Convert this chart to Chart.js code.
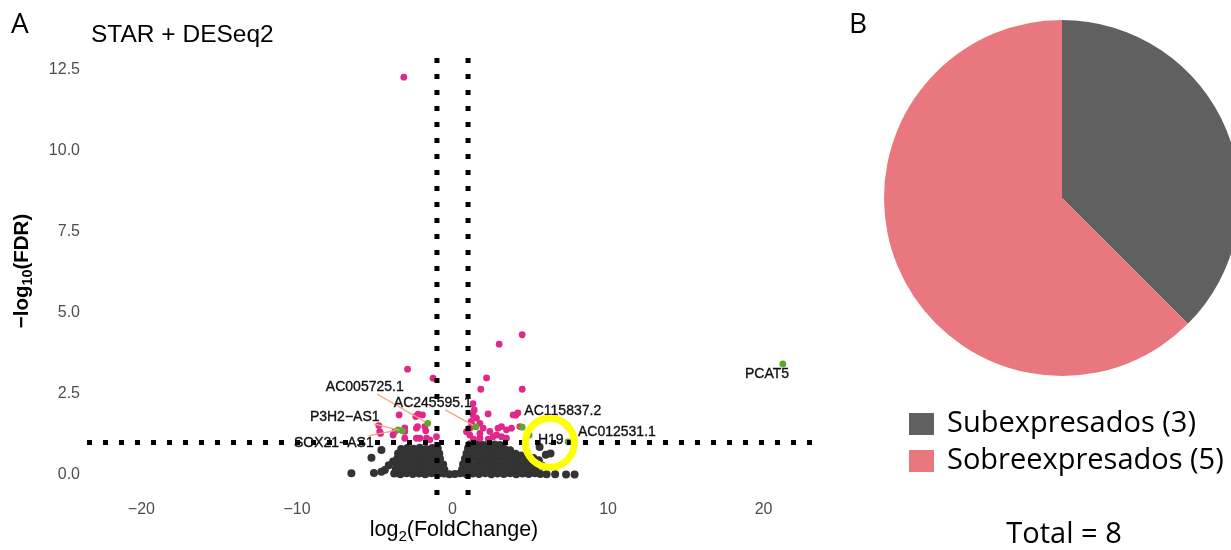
<!DOCTYPE html>
<html>
<head>
<meta charset="utf-8">
<script src="https://cdn.jsdelivr.net/npm/chart.js@4.4.1/dist/chart.umd.min.js"></script>
<style>
  html, body { margin: 0; padding: 0; background: #fff; overflow: hidden; width: 1231px; height: 550px; }
  #volcano { position: absolute; left: 0; top: 0; }
  #pie { position: absolute; left: 840px; top: 0; }
</style>
</head>
<body>
<canvas id="volcano" width="830" height="550"></canvas>
<canvas id="pie" width="400" height="550"></canvas>
<script>
// log2(FoldChange), -log10(FDR) of the non significant genes (grey cloud)
const nsPoints = [
  [-3.75,0.04],[-3.35,0.02],[-2.95,0.05],[-2.55,0.03],[-2.15,0.04],[-1.75,0.02],[-1.35,0.05],[-0.95,0.03],[-0.55,0.04],[-0.2,0.02],
  [0.15,0.03],[0.5,0.05],[0.9,0.02],[1.3,0.04],[1.7,0.03],[2.1,0.05],[2.5,0.02],[2.9,0.04],[3.3,0.03],[3.7,0.05],[4.1,0.02],[4.5,0.04],[4.9,0.03],[5.3,0.05],[5.65,0.03],
  [-3.65,0.18],[-3.25,0.15],[-2.85,0.19],[-2.45,0.16],[-2.05,0.18],[-1.65,0.15],[-1.25,0.19],[-0.85,0.17],[-0.52,0.16],
  [0.62,0.17],[0.95,0.19],[1.35,0.15],[1.75,0.18],[2.15,0.16],[2.55,0.19],[2.95,0.15],[3.35,0.18],[3.75,0.16],[4.15,0.19],[4.55,0.15],[4.95,0.18],[5.35,0.16],
  [-3.6,0.34],[-3.2,0.31],[-2.8,0.35],[-2.4,0.32],[-2.0,0.34],[-1.6,0.31],[-1.2,0.35],[-0.85,0.33],[-0.6,0.32],
  [0.68,0.33],[1.05,0.35],[1.45,0.31],[1.85,0.34],[2.25,0.32],[2.65,0.35],[3.05,0.31],[3.45,0.34],[3.85,0.32],[4.25,0.35],[4.65,0.31],[5.05,0.33],
  [-3.55,0.5],[-3.15,0.48],[-2.75,0.52],[-2.35,0.49],[-1.95,0.51],[-1.55,0.48],[-1.15,0.52],[-0.8,0.5],
  [0.8,0.5],[1.15,0.52],[1.55,0.48],[1.95,0.51],[2.35,0.49],[2.75,0.52],[3.15,0.48],[3.55,0.51],[3.95,0.49],[4.35,0.52],[4.75,0.48],
  [-3.5,0.66],[-3.1,0.64],[-2.7,0.68],[-2.3,0.65],[-1.9,0.67],[-1.5,0.64],[-1.1,0.68],[-0.85,0.66],
  [0.9,0.66],[1.25,0.68],[1.65,0.64],[2.05,0.67],[2.45,0.65],[2.85,0.68],[3.25,0.64],[3.65,0.67],[4.05,0.65],[4.4,0.6],
  [-3.3,0.8],[-2.9,0.83],[-2.5,0.81],[-2.1,0.84],[-1.7,0.8],[-1.3,0.83],[-0.95,0.82],
  [1.0,0.82],[1.35,0.84],[1.75,0.8],[2.15,0.83],[2.55,0.81],[2.95,0.84],[3.35,0.8],[3.7,0.76],
  [1.1,0.94],[1.5,0.96],[1.9,0.93],[2.3,0.95],[2.7,0.94],[3.05,0.92],
  [-6.5,0.05],[-5.05,0.06],[-5.21,0.53],[-4.57,0.77],[-4.57,0.1],[-4.35,0.15],[-3.82,0.41],[-4.1,0.3],
  [5.2,0.52],[5.55,0.45],[5.75,0.28],[6.0,0.62],[6.3,0.66],[5.6,0.86],[6.05,0.02],[6.6,0.02],[7.3,0.01],[7.85,0.01]
];

// significant genes (pink)
const sigPoints = [
  [-3.13,12.26],[4.48,4.32],[3.0,4.03],[-2.89,3.26],[-1.25,2.98],[2.19,2.99],[1.82,2.64],[4.48,2.64],[1.32,2.2],
  [2.29,1.88],[4.07,1.84],[4.2,1.91],[-3.43,1.85],[-2.21,1.87],[-2.36,1.8],[-1.93,1.85],[-4.74,1.52],[-3.71,1.34],
  [-3.07,1.34],[-2.25,1.49],[-1.78,1.49],[-1.72,1.36],[-2.32,1.13],[-1.67,1.13],[-1.03,1.18],[-4.63,1.28],[-3.82,1.23],
  [-3.07,1.13],[1.32,1.85],[1.54,1.75],[1.2,1.65],[1.76,1.59],[1.11,1.44],[1.97,1.44],[1.11,1.23],[1.76,1.28],
  [2.4,1.34],[2.93,1.44],[3.15,1.49],[3.47,1.39],[3.79,1.44],[3.9,1.85],[2.61,1.18],[3.15,1.18],[2.3,1.1],
  [1.76,1.13],[1.35,1.1],[4.33,1.49],[7.39,1.51],[1.4,2.0],[1.25,1.55],[0.9,1.33],[2.83,1.23],[3.47,1.13],
  [-2.1,1.13],[-1.46,1.08],[-4.68,1.33],[-3.07,1.45],[-2.32,1.44]
];

// labelled lncRNAs (green)
const geneNames  = ['PCAT5', 'AC005725.1', 'AC245595.1', 'P3H2\u2212AS1', 'SOX21\u2212AS1', 'AC115837.2', 'H19', 'AC012531.1'];
const geneLog2FC = [21.24, -1.59, 1.5, -3.22, -3.5, 4.48, 4.93, 7.43];
const geneLogFDR = [3.42, 1.59, 1.48, 1.36, 1.39, 1.47, 1.23, 1.02];

// where the repelled labels sit (data units) and whether a segment is drawn
const labelPos = [[20.22,3.11],[-5.64,2.71],[-1.27,2.22],[-6.93,1.79],[-7.63,0.99],[7.09,1.97],[6.32,1.08],[10.57,1.33]];
const labelSegment = [false, true, true, true, true, false, false, false];

const fcCut = 1;      // |log2FC| threshold
const fdrCut = 1;     // -log10(FDR) threshold
const highlight = [6.26, 0.99];   // yellow ring around H19

const pieLabels = ['Subexpresados (3)', 'Sobreexpresados (5)'];
const pieCounts = [3, 5];
const pieColors = ['#606060', '#E9787E'];

const xMin = -23.5, xMax = 23.5, yMin = -0.65, yMax = 12.85;

const toXY = arr => arr.map(p => ({ x: p[0], y: p[1] }));

// helper: draw text with subscript parts, centred on x
function drawParts(ctx, parts, x, y, size, weight) {
  let total = 0;
  parts.forEach(p => {
    ctx.font = `${weight} ${p[1] ? size * 0.7 : size}px "Liberation Sans", Arial, sans-serif`;
    total += ctx.measureText(p[0]).width;
  });
  let cx = x - total / 2;
  parts.forEach(p => {
    ctx.font = `${weight} ${p[1] ? size * 0.7 : size}px "Liberation Sans", Arial, sans-serif`;
    ctx.fillText(p[0], cx, p[1] ? y + size * 0.3 : y);
    cx += ctx.measureText(p[0]).width;
  });
}

const volcanoText = {
  id: 'volcanoText',
  afterDatasetsDraw(chart) {
    const { ctx, scales: { x, y } } = chart;
    ctx.save();
    ctx.font = '14px "Liberation Sans", Arial, sans-serif';
    ctx.textAlign = 'center';
    ctx.textBaseline = 'middle';
    geneNames.forEach((name, i) => {
      const px = x.getPixelForValue(geneLog2FC[i]);
      const py = y.getPixelForValue(geneLogFDR[i]);
      const lx = x.getPixelForValue(labelPos[i][0]);
      const ly = y.getPixelForValue(labelPos[i][1]);
      const hw = ctx.measureText(name).width / 2, hh = 7;
      if (labelSegment[i]) {
        const dx = px - lx, dy = py - ly;
        const t = Math.min(Math.abs(hw / dx), Math.abs(hh / dy));
        const len = Math.hypot(dx, dy);
        const e = (len - 3) / len;
        ctx.strokeStyle = '#F4A582';
        ctx.lineWidth = 1.3;
        ctx.beginPath();
        ctx.moveTo(lx + dx * t, ly + dy * t);
        ctx.lineTo(lx + dx * e, ly + dy * e);
        ctx.stroke();
      }
      ctx.fillStyle = '#111';
      ctx.strokeStyle = '#111';
      ctx.lineWidth = 0.35;
      ctx.fillText(name, lx, ly);
      ctx.strokeText(name, lx, ly);
    });

    // yellow ring
    ctx.strokeStyle = '#FFFF00';
    ctx.lineWidth = 7;
    ctx.beginPath();
    ctx.arc(x.getPixelForValue(highlight[0]), y.getPixelForValue(highlight[1]), 24.5, 0, Math.PI * 2);
    ctx.stroke();
    ctx.restore();
  },
  afterDraw(chart) {
    const { ctx } = chart;
    ctx.save();
    ctx.fillStyle = '#000';
    ctx.textBaseline = 'middle';
    ctx.textAlign = 'left';
    ctx.font = '28px "Open Sans", sans-serif';
    ctx.fillText('A', 11, 25);
    ctx.font = '24.5px "Liberation Sans", Arial, sans-serif';
    ctx.fillText('STAR + DESeq2', 91, 35);

    drawParts(ctx, [['log', false], ['2', true], ['(FoldChange)', false]], 454, 530, 21.5, 'normal');

    ctx.translate(22, 271);
    ctx.rotate(-Math.PI / 2);
    drawParts(ctx, [['\u2212log', false], ['10', true], ['(FDR)', false]], 0, 0, 20.5, 'bold');
    ctx.restore();
  }
};

const dotted = { borderColor: '#000', borderWidth: 5, borderDash: [5, 11], pointRadius: 0, showLine: true, fill: false, order: 0 };

new Chart(document.getElementById('volcano'), {
  type: 'scatter',
  data: {
    datasets: [
      Object.assign({ data: [{ x: -fcCut, y: yMax }, { x: -fcCut, y: yMin }] }, dotted),
      Object.assign({ data: [{ x: fcCut, y: yMax }, { x: fcCut, y: yMin }] }, dotted),
      Object.assign({ data: [{ x: xMin, y: fdrCut }, { x: xMax, y: fdrCut }] }, dotted),
      { data: toXY(nsPoints), backgroundColor: '#333333', pointRadius: 4, pointBorderWidth: 0, order: 3 },
      { data: toXY(sigPoints), backgroundColor: '#E0288A', pointRadius: 3.4, pointBorderWidth: 0, order: 2 },
      { data: geneLog2FC.map((v, i) => ({ x: v, y: geneLogFDR[i] })), backgroundColor: '#5BA82C', pointRadius: 3.4, pointBorderWidth: 0, order: 1 }
    ]
  },
  options: {
    responsive: false,
    animation: false,
    layout: { padding: { left: 0, right: 12, top: 58, bottom: 0 } },
    plugins: { legend: { display: false }, tooltip: { enabled: false } },
    scales: {
      x: {
        type: 'linear', min: xMin, max: xMax,
        grid: { display: false, drawTicks: false },
        border: { display: false },
        ticks: {
          stepSize: 10, includeBounds: false, padding: 4, color: '#4D4D4D',
          font: { family: '"Liberation Sans", Arial, sans-serif', size: 16 },
          callback: v => String(v).replace('-', '\u2212')
        },
        afterFit(s) { s.height = 54; }
      },
      y: {
        type: 'linear', min: yMin, max: yMax,
        grid: { display: false, drawTicks: false },
        border: { display: false },
        ticks: {
          stepSize: 2.5, includeBounds: false, padding: 7, color: '#4D4D4D',
          font: { family: '"Liberation Sans", Arial, sans-serif', size: 16 },
          callback: v => v.toFixed(1)
        },
        afterFit(s) { s.width = 87; }
      }
    }
  },
  plugins: [volcanoText]
});

const pieText = {
  id: 'pieText',
  afterDraw(chart) {
    const { ctx } = chart;
    ctx.save();
    ctx.fillStyle = '#000';
    ctx.textBaseline = 'middle';
    ctx.textAlign = 'left';
    ctx.font = '28px "Open Sans", sans-serif';
    ctx.fillText('B', 9, 25);
    ctx.font = '29px "Open Sans", sans-serif';
    pieLabels.forEach((lab, i) => {
      const cy = 424 + i * 37;
      ctx.fillStyle = pieColors[i];
      ctx.fillRect(69, cy - 11, 25, 22);
      ctx.fillStyle = '#000';
      ctx.fillText(lab, 107, cy);
    });
    ctx.textAlign = 'center';
    ctx.fillText('Total = ' + pieCounts.reduce((a, b) => a + b, 0), 224, 535);
    ctx.restore();
  }
};

new Chart(document.getElementById('pie'), {
  type: 'pie',
  data: {
    labels: pieLabels,
    datasets: [{ data: pieCounts, backgroundColor: pieColors, borderWidth: 0, hoverOffset: 0, offset: 0 }]
  },
  options: {
    responsive: false,
    animation: false,
    layout: { padding: { left: 44, right: 0, top: 20, bottom: 174 } },
    plugins: { legend: { display: false }, tooltip: { enabled: false } }
  },
  plugins: [pieText]
});
</script>
</body>
</html>
